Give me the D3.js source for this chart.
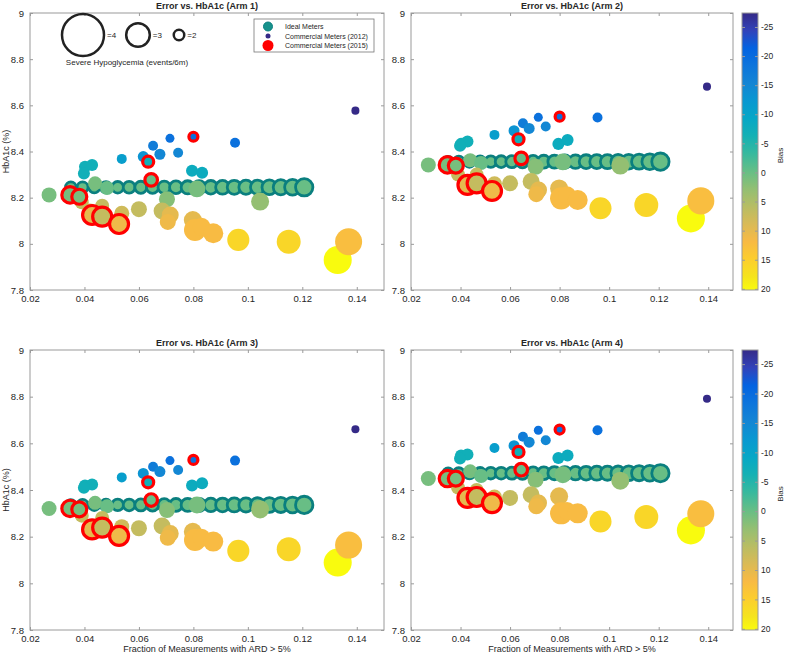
<!DOCTYPE html>
<html>
<head>
<meta charset="utf-8">
<script src="https://cdn.jsdelivr.net/npm/d3@7"></script>
<style>
  body { margin: 0; background: #fff; }
  svg text { font-family: "Liberation Sans", Arial, sans-serif; fill: #262626; }
</style>
</head>
<body>
<div id="chart"></div>
<script>
// ---- data ----
var armTitles = ["Error vs. HbA1c (Arm 1)", "Error vs. HbA1c (Arm 2)", "Error vs. HbA1c (Arm 3)", "Error vs. HbA1c (Arm 4)"];

// ideal meters (bias ~ 0), one HbA1c level per arm
var idealX = [0.0350, 0.0393, 0.0436, 0.0479, 0.0522, 0.0564, 0.0607, 0.0650, 0.0693, 0.0736, 0.0779,
              0.0821, 0.0864, 0.0907, 0.0950, 0.0993, 0.1036, 0.1079, 0.1121, 0.1164, 0.1207];
var idealHypo = [2.02, 2.04, 2.06, 2.08, 2.10, 2.12, 2.14, 2.16, 2.18, 2.21, 2.23,
                 2.25, 2.27, 2.29, 2.31, 2.32, 2.34, 2.37, 2.40, 2.45, 2.57];
var idealBias = 0;
var idealY = [8.245, 8.356, 8.336, 8.472];

// commercial meters (2012)
var metX = [0.1395, 0.0714, 0.0953, 0.0652, 0.0677, 0.0744, 0.0616, 0.0537, 0.0795, 0.0832, 0.0402, 0.0428,
            0.0398, 0.027, 0.1045, 0.0703, 0.0439, 0.0813, 0.0483, 0.0465, 0.0537, 0.060, 0.0685, 0.0715,
            0.0706, 0.0798, 0.0806, 0.083, 0.0873, 0.0965, 0.115, 0.133, 0.137, 0.042, 0.039];
var metBias = [-27.4, -19, -19, -17, -15, -15, -13, -11, -8, -8, -7, -7,
               -7, 1, 3, 2, 1, 1, 0, 7, 8, 7, 7, 10,
               11, 10, 12, 12, 12, 16, 16, 20.2, 12.5, 8, 7];
var metHypo = [1.75, 1.85, 1.95, 1.95, 2.05, 1.95, 2.05, 1.95, 2.14, 2.14, 2.14, 2.14,
               2.14, 2.39, 2.62, 2.47, 2.31, 2.54, 2.31, 2.31, 2.39, 2.47, 2.54, 2.54,
               2.47, 2.62, 2.9, 2.62, 2.76, 2.9, 3.02, 3.27, 3.21, 2.47, 2.31];
var metY1 = [8.577, 8.457, 8.438, 8.425, 8.388, 8.395, 8.378, 8.368, 8.317, 8.308, 8.334, 8.342,
             8.305, 8.212, 8.183, 8.193, 8.262, 8.238, 8.242, 8.165, 8.132, 8.15, 8.142, 8.125,
             8.095, 8.103, 8.06, 8.074, 8.046, 8.017, 8.009, 7.93, 8.009, 8.14, 8.18];
var metY2 = [8.681, 8.548, 8.547, 8.522, 8.50, 8.508, 8.49, 8.472, 8.433, 8.45, 8.433, 8.443,
             8.425, 8.342, 8.339, 8.334, 8.362, 8.355, 8.35, 8.30, 8.26, 8.262, 8.27, 8.233,
             8.215, 8.24, 8.197, 8.21, 8.19, 8.154, 8.168, 8.11, 8.186, 8.26, 8.30];
var metY3 = [8.66, 8.526, 8.526, 8.50, 8.479, 8.486, 8.471, 8.454, 8.419, 8.429, 8.419, 8.424,
             8.41, 8.321, 8.317, 8.314, 8.345, 8.336, 8.33, 8.28, 8.243, 8.236, 8.246, 8.214,
             8.195, 8.221, 8.186, 8.195, 8.179, 8.139, 8.146, 8.089, 8.164, 8.24, 8.29];
var metY4 = [8.791, 8.656, 8.656, 8.628, 8.605, 8.613, 8.59, 8.58, 8.537, 8.548, 8.548, 8.552,
             8.535, 8.449, 8.44, 8.444, 8.48, 8.465, 8.46, 8.40, 8.37, 8.366, 8.38, 8.344,
             8.33, 8.373, 8.30, 8.31, 8.30, 8.265, 8.284, 8.227, 8.298, 8.37, 8.41];

// commercial meters (2015)
var newX = [0.0347, 0.0381, 0.0428, 0.0465, 0.0527, 0.0634, 0.0645, 0.080];
var newBias = [1, 1, 10, 7, 11, -7, 0, -19];
var newHypo = [2.5, 2.39, 2.69, 2.69, 2.69, 2.05, 2.19, 1.85];
var newY1 = [8.212, 8.204, 8.125, 8.118, 8.086, 8.356, 8.277, 8.464];
var newY2 = [8.342, 8.339, 8.255, 8.262, 8.229, 8.453, 8.37, 8.551];
var newY3 = [8.321, 8.317, 8.231, 8.239, 8.203, 8.433, 8.357, 8.529];
var newY4 = [8.449, 8.449, 8.366, 8.37, 8.344, 8.563, 8.487, 8.659];

var xTicks = [0.02, 0.04, 0.06, 0.08, 0.1, 0.12, 0.14];
var yTicks = [7.8, 8, 8.2, 8.4, 8.6, 8.8, 9];
var biasTicks = [-25, -20, -15, -10, -5, 0, 5, 10, 15, 20];
var sizeKey = [4, 3, 2];
var legendLabels = ["Ideal Meters", "Commercial Meters (2012)", "Commercial Meters (2015)"];

// ---- layout / style ----
var width = 787, height = 655;
var panels = [
  {l: 30, r: 384, t: 13, b: 290, ylab: true, xlab: false, cbar: false, legend: true},
  {l: 411, r: 733, t: 13, b: 290, ylab: false, xlab: false, cbar: true},
  {l: 30, r: 384, t: 350, b: 630, ylab: true, xlab: true, cbar: false},
  {l: 411, r: 733, t: 350, b: 630, ylab: false, xlab: true, cbar: true}
];
var metYs = [metY1, metY2, metY3, metY4];
var newYs = [newY1, newY2, newY3, newY4];

var boxColor = "#9a9a9a";
var parula = ["#352a87", "#3243ba", "#0363e1", "#0d75dc", "#1485d4", "#0998d1", "#06a7c6", "#15b1b4", "#38b99e",
              "#65be86", "#92bf73", "#b7bd64", "#d9ba56", "#f8ba44", "#fcce2e", "#f5e41d", "#f9fb0e"];
var parulaT = [0, 4, 8, 12, 16, 20, 24, 28, 32, 36, 40, 44, 48, 52, 56, 60, 63].map(function(i) { return i / 63; });

var allBias = metBias.concat(newBias);
var biasMin = d3.min(allBias), biasMax = d3.max(allBias);
var tScale = d3.scaleLinear().domain([biasMin, biasMax]).range([0, 1]).clamp(true);
var cmap = d3.scaleLinear().domain(parulaT).range(parula);
function colorOf(b) { return cmap(tScale(b)); }

var sizeScale = d3.scalePow().exponent(2).domain([0, 4]).range([0, 21]);
var fmt = d3.format("~g");

var svg = d3.select("#chart").append("svg")
  .attr("width", width)
  .attr("height", height);

// gradient for colorbars (top = min bias)
var grad = svg.append("defs").append("linearGradient")
  .attr("id", "parula")
  .attr("x1", 0).attr("y1", 0).attr("x2", 0).attr("y2", 1);
grad.selectAll("stop").data(parula).enter().append("stop")
  .attr("offset", function(d, i) { return parulaT[i]; })
  .attr("stop-color", function(d) { return d; });

function styleAxis(sel) {
  sel.select(".domain").remove();
  sel.selectAll(".tick line").attr("stroke", boxColor);
  sel.selectAll(".tick text").style("font-size", "9.5px").attr("fill", "#262626");
}

panels.forEach(function(p, i) {
  var x = d3.scaleLinear().domain([0.02, 0.15]).range([p.l, p.r]);
  var y = d3.scaleLinear().domain([7.8, 9]).range([p.b, p.t]);
  var g = svg.append("g");

  // axes, ticks pointing inward on all four sides
  g.append("g").attr("transform", "translate(0," + p.b + ")")
    .call(d3.axisBottom(x).tickValues(xTicks).tickSize(-3).tickPadding(5).tickFormat(fmt)).call(styleAxis);
  g.append("g").attr("transform", "translate(0," + p.t + ")")
    .call(d3.axisTop(x).tickValues(xTicks).tickSize(-3).tickFormat("")).call(styleAxis);
  g.append("g").attr("transform", "translate(" + p.l + ",0)")
    .call(d3.axisLeft(y).tickValues(yTicks).tickSize(-3).tickPadding(6).tickFormat(fmt)).call(styleAxis);
  g.append("g").attr("transform", "translate(" + p.r + ",0)")
    .call(d3.axisRight(y).tickValues(yTicks).tickSize(-3).tickFormat("")).call(styleAxis);

  g.append("rect")
    .attr("x", p.l).attr("y", p.t)
    .attr("width", p.r - p.l).attr("height", p.b - p.t)
    .attr("fill", "none").attr("stroke", boxColor).attr("stroke-width", 1);

  g.append("text")
    .attr("x", (p.l + p.r) / 2).attr("y", p.t - 4)
    .attr("text-anchor", "middle")
    .style("font-size", "9px").style("font-weight", "bold")
    .text(armTitles[i]);

  if (p.ylab) {
    g.append("text")
      .attr("transform", "translate(9," + ((p.t + p.b) / 2) + ") rotate(-90)")
      .attr("text-anchor", "middle")
      .style("font-size", "9px")
      .text("HbA1c (%)");
  }
  if (p.xlab) {
    g.append("text")
      .attr("x", (p.l + p.r) / 2).attr("y", p.b + 22)
      .attr("text-anchor", "middle")
      .style("font-size", "9px")
      .text("Fraction of Measurements with ARD > 5%");
  }

  // ideal meters
  var ideal = idealX.map(function(v, k) { return {x: v, y: idealY[i], h: idealHypo[k], b: idealBias}; });
  g.selectAll(".ideal").data(ideal).enter().append("circle")
    .attr("class", "ideal")
    .attr("cx", function(d) { return x(d.x); })
    .attr("cy", function(d) { return y(d.y); })
    .attr("r", function(d) { return sizeScale(d.h); })
    .attr("fill", function(d) { return colorOf(d.b); })
    .attr("stroke", "#0a7f7f")
    .attr("stroke-width", 2.8);

  // commercial 2012
  var met = metX.map(function(v, k) { return {x: v, y: metYs[i][k], h: metHypo[k], b: metBias[k]}; });
  g.selectAll(".met").data(met).enter().append("circle")
    .attr("class", "met")
    .attr("cx", function(d) { return x(d.x); })
    .attr("cy", function(d) { return y(d.y); })
    .attr("r", function(d) { return sizeScale(d.h); })
    .attr("fill", function(d) { return colorOf(d.b); });

  // commercial 2015
  var nw = newX.map(function(v, k) { return {x: v, y: newYs[i][k], h: newHypo[k], b: newBias[k]}; });
  g.selectAll(".new").data(nw).enter().append("circle")
    .attr("class", "new")
    .attr("cx", function(d) { return x(d.x); })
    .attr("cy", function(d) { return y(d.y); })
    .attr("r", function(d) { return sizeScale(d.h); })
    .attr("fill", function(d) { return colorOf(d.b); })
    .attr("stroke", "#f00")
    .attr("stroke-width", 3.2);

  // colorbar
  if (p.cbar) {
    var cx0 = 742, cw = 16;
    var cb = d3.scaleLinear().domain([biasMin, biasMax]).range([p.t, p.b]);
    g.append("rect")
      .attr("x", cx0).attr("y", p.t)
      .attr("width", cw).attr("height", p.b - p.t)
      .attr("fill", "url(#parula)")
      .attr("stroke", boxColor);
    g.append("g").attr("transform", "translate(" + (cx0 + cw) + ",0)")
      .call(d3.axisRight(cb).tickValues(biasTicks).tickSize(-3).tickPadding(3).tickFormat(function(d) { return String(d); }))
      .call(styleAxis)
      .selectAll(".tick text").style("font-size", "8.5px");
    g.append("g").attr("transform", "translate(" + cx0 + ",0)")
      .call(d3.axisLeft(cb).tickValues(biasTicks).tickSize(-3).tickFormat(""))
      .call(styleAxis);
    g.append("text")
      .attr("transform", "translate(783," + ((p.t + p.b) / 2 + 4) + ") rotate(-90)")
      .attr("text-anchor", "middle")
      .style("font-size", "8px")
      .text("Bias");
  }

  // legends on the first panel
  if (p.legend) {
    // marker-size key
    var keyX = [83, 138, 179], keyY = 35;
    var key = g.append("g");
    key.selectAll("circle").data(sizeKey).enter().append("circle")
      .attr("cx", function(d, k) { return keyX[k]; })
      .attr("cy", keyY)
      .attr("r", function(d) { return sizeScale(d); })
      .attr("fill", "none")
      .attr("stroke", "#222")
      .attr("stroke-width", 2.5);
    key.selectAll("text.k").data(sizeKey).enter().append("text")
      .attr("class", "k")
      .attr("x", function(d, k) { return keyX[k] + sizeScale(d) + 3; })
      .attr("y", keyY + 3)
      .style("font-size", "8px")
      .text(function(d) { return "=" + d; });
    key.append("text")
      .attr("x", 127).attr("y", 65)
      .attr("text-anchor", "middle")
      .style("font-size", "8px")
      .text("Severe Hypoglycemia (events/6m)");

    // series legend
    var lg = g.append("g");
    lg.append("rect")
      .attr("x", 254).attr("y", 19).attr("width", 120).attr("height", 33)
      .attr("fill", "#fff").attr("stroke", "#777").attr("stroke-width", 0.8);
    var rows = [26.5, 36, 45.5];
    var mk = [
      {r: 4.5, fill: "#17928c", stroke: "#0a7f7f"},
      {r: 2.5, fill: colorOf(biasMin), stroke: "none"},
      {r: 5.5, fill: "#f00", stroke: "none"}
    ];
    lg.selectAll("circle").data(mk).enter().append("circle")
      .attr("cx", 268)
      .attr("cy", function(d, k) { return rows[k]; })
      .attr("r", function(d) { return d.r; })
      .attr("fill", function(d) { return d.fill; })
      .attr("stroke", function(d) { return d.stroke; });
    lg.selectAll("text").data(legendLabels).enter().append("text")
      .attr("x", 285)
      .attr("y", function(d, k) { return rows[k] + 2.5; })
      .style("font-size", "7px")
      .text(function(d) { return d; });
  }
});
</script>
</body>
</html>
